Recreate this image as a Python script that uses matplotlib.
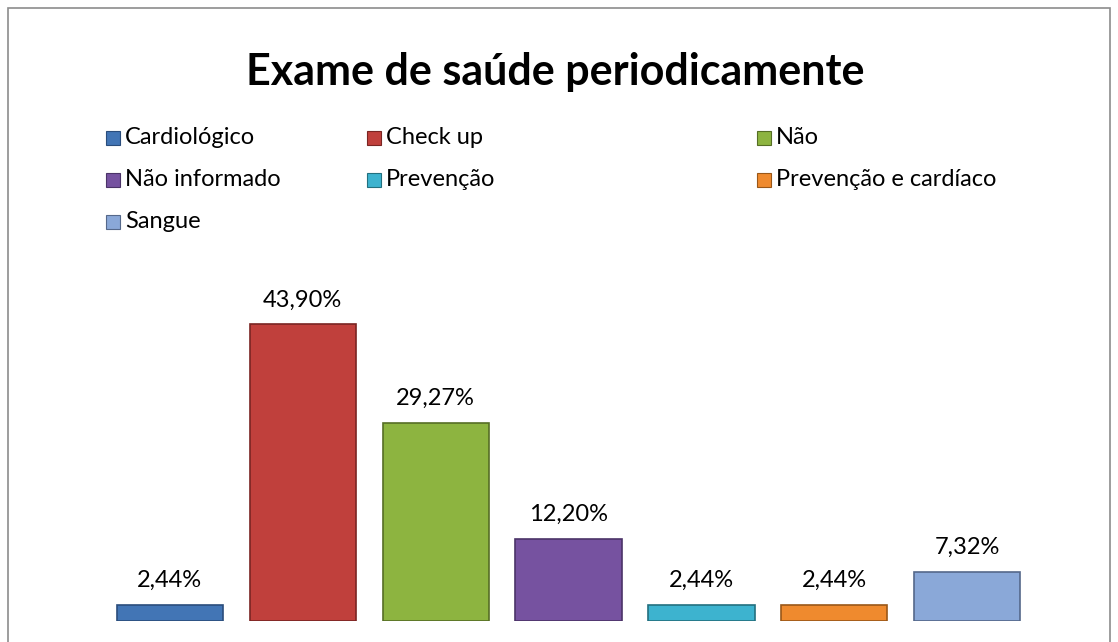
import matplotlib
matplotlib.use("Agg")
import matplotlib.pyplot as plt
from matplotlib.patches import Rectangle

plt.rcParams['font.family'] = ['Lato', 'DejaVu Sans']

categorias = ['Cardiológico', 'Check up', 'Não', 'Não informado',
              'Prevenção', 'Prevenção e cardíaco', 'Sangue']
valores = [2.44, 43.90, 29.27, 12.20, 2.44, 2.44, 7.32]
rotulos = ['2,44%', '43,90%', '29,27%', '12,20%', '2,44%', '2,44%', '7,32%']
cores = ['#4275b5', '#c0403c', '#8db440', '#7652a0', '#3db3cf', '#ef8a2e', '#8aa8d8']
bordas = ['#2a4d7c', '#7a2523', '#566e25', '#4b3368', '#23707f', '#9a5718', '#55688a']

fig = plt.figure(figsize=(11.18, 6.42), dpi=100)

# moldura do grafico
fig.patches.append(Rectangle((8/1118, -0.05), 1102/1118, 1.05 - 8/642,
                             transform=fig.transFigure, fill=False,
                             edgecolor='#8c8c8c', linewidth=1.2))

ax = fig.add_axes([103.5/1118, 21/642, 930/1118, 338/642])
x = range(len(valores))
barras = ax.bar(x, valores, width=0.8, color=cores, edgecolor=bordas, linewidth=1.2)

for i, b in enumerate(barras):
    ax.annotate(rotulos[i], (b.get_x() + b.get_width()/2, b.get_height()),
                xytext=(0, 10), textcoords='offset points',
                ha='center', va='bottom', fontsize=17)

ax.set_xlim(-0.5, len(valores) - 0.5)
ax.set_ylim(0, 50)
ax.axis('off')

fig.text(555/1118, 1 - 72/642, 'Exame de saúde periodicamente',
         ha='center', va='center', fontsize=31, fontweight='bold')

# legenda manual em 3 colunas
col_x = [106, 367, 757]
lin_y = [138, 180, 222]
for i, nome in enumerate(categorias):
    cx = col_x[i % 3]
    cy = lin_y[i // 3]
    fig.patches.append(Rectangle((cx/1118, 1 - (cy + 7)/642), 14/1118, 14/642,
                                 transform=fig.transFigure,
                                 facecolor=cores[i], edgecolor=bordas[i], linewidth=0.8))
    fig.text((cx + 19)/1118, 1 - cy/642, nome, ha='left', va='center', fontsize=17)

plt.savefig('out.png', dpi=100)
